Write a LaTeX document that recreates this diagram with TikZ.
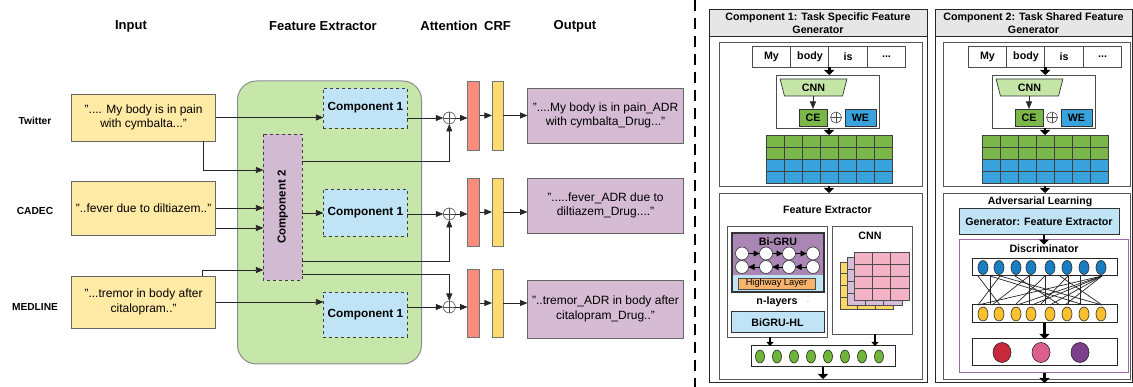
\documentclass[tikz,border=0pt]{standalone}
\usepackage{fontspec}
\setmainfont{Liberation Sans}
\usetikzlibrary{arrows.meta,calc,shapes.geometric}
\definecolor{inYel}{HTML}{FFEAA6}
\definecolor{grn}{HTML}{C7E7AA}
\definecolor{c1blue}{HTML}{C0E4F6}
\definecolor{c2pur}{HTML}{D3BAD3}
\definecolor{redbar}{HTML}{F88D7E}
\definecolor{yelbar}{HTML}{FFDB6E}
\definecolor{outpur}{HTML}{D6BBD4}
\definecolor{hdrc}{HTML}{E6E6E6}
\definecolor{gridG}{HTML}{7AB648}
\definecolor{gridB}{HTML}{38A3DC}
\definecolor{cnnG}{HTML}{C5E6A6}
\definecolor{gruP}{HTML}{A986B4}
\definecolor{hwO}{HTML}{F8B46C}
\definecolor{pinkL}{HTML}{F3B2C6}
\definecolor{purL}{HTML}{D5BCD8}
\definecolor{yelL}{HTML}{FCD76A}
\definecolor{nodeB}{HTML}{1A7CC1}
\definecolor{nodeY}{HTML}{FBC02D}
\definecolor{discP}{HTML}{9B6BAA}
\definecolor{outR}{HTML}{C8283C}
\definecolor{outK}{HTML}{DB5E8C}
\definecolor{outV}{HTML}{7B3F8C}
\definecolor{nodeG}{HTML}{6FB53A}
\newcommand\gridlines[4][black!70]{%
 \pgfmathtruncatemacro\gcols{#3-1}%
 \pgfmathtruncatemacro\grows{#4-1}%
 \foreach \i in {1,...,\gcols}{\draw[#1,line width=0.6pt] ($(#2.north west)!\i/#3!(#2.north east)$) -- ($(#2.south west)!\i/#3!(#2.south east)$);}%
 \foreach \j in {1,...,\grows}{\draw[#1,line width=0.6pt] ($(#2.north west)!\j/#4!(#2.south west)$) -- ($(#2.north east)!\j/#4!(#2.south east)$);}%
}
\newcommand\topblock[2]{%
\begin{scope}[xshift=#2]
\node[word] (#1w1) at (771.5,56.5) {My};
\node[word] (#1w2) at (810,56.5) {body};
\node[word] (#1w3) at (848,56.5) {is};
\node[word] (#1w4) at (886.5,56.5) {...};
\node[cbox] (#1cb) at (827.5,101.5) {};
\node[trap] (#1cnn) at (813.5,87.5) {CNN};
\node[ce, fill=gridG, minimum width=28] (#1ce) at (813,117.5) {CE};
\node[oplus, minimum size=11pt] (#1pl) at (836,117.5) {};
\node[ce, fill=gridB, minimum width=31] (#1we) at (860.5,117.5) {WE};
\node[draw=black!75, fill=gridB, minimum width=126, minimum height=48] (#1g) at (829,159) {};
\fill[gridG] (#1g.north west) rectangle (#1g.east);
\gridlines[black!75]{#1g}{7}{4}
\draw[black!75, line width=0.8pt] (#1g.north west) rectangle (#1g.south east);
\draw[fat] (#1w2.south east) -- (#1w2.south east |- #1cb.north);
\draw[arr] (#1cnn.south -| #1ce.north) -- (#1ce.north);
\draw[fat] (#1g.north |- #1cb.south) -- (#1g.north);
\end{scope}}
\begin{document}
\begin{tikzpicture}[x=1pt,y=-1pt,
 every node/.style={inner sep=0pt, outer sep=0pt},
 ttl/.style={font=\fontsize{13}{15}\selectfont\bfseries},
 lbl/.style={font=\fontsize{10.2}{12}\selectfont\bfseries},
 txt/.style={font=\fontsize{12}{14.5}\selectfont, align=center},
 bld/.style={font=\fontsize{10.7}{13}\selectfont\bfseries, align=center},
 inbox/.style={draw=black!60, line width=0.8pt, fill=inYel, minimum width=144, txt},
 obox/.style={draw=black!60, line width=0.8pt, fill=outpur, minimum width=156, txt},
 c1s/.style={draw=black!75, dashed, line width=0.7pt, fill=c1blue, minimum width=84, font=\fontsize{11.8}{14}\selectfont\bfseries},
 c2s/.style={draw=black!75, dashed, line width=0.7pt, fill=c2pur, font=\fontsize{11.5}{14}\selectfont\bfseries},
 rbar/.style={draw=black!55, line width=0.7pt, fill=redbar, minimum width=12},
 ybar/.style={draw=black!55, line width=0.7pt, fill=yelbar, minimum width=11.5},
 oplus/.style={circle, draw=black!70, line width=0.6pt, minimum size=12pt,
   path picture={\draw[black!70, line width=0.6pt] (path picture bounding box.north) -- (path picture bounding box.south) (path picture bounding box.west) -- (path picture bounding box.east);}},
 arr/.style={draw=black!85, line width=0.8pt, -{Triangle[length=7.5pt,width=6pt]}},
 sarr/.style={draw=black, line width=0.8pt, -{Triangle[length=6pt,width=6pt]}},
 fat/.style={draw=black, line width=2.8pt, -{Triangle[length=5pt,width=10pt]}},
 fatS/.style={draw=black, line width=2.2pt, -{Triangle[length=4pt,width=7pt]}},
 sep/.style={draw=black, line width=2pt, dash pattern=on 11pt off 7pt},
 panel/.style={draw=black!85, line width=1pt},
 hdr/.style={draw=black!85, line width=1pt, fill=hdrc, bld},
 ib/.style={draw=black!65, line width=0.8pt},
 word/.style={draw=black!70, line width=0.7pt, fill=white, minimum width=38.5, minimum height=21, bld},
 cbox/.style={draw=black!70, line width=0.8pt, fill=white, minimum width=103, minimum height=53},
 trap/.style={trapezium, trapezium stretches=true, shape border rotate=180, trapezium left angle=77, trapezium right angle=77, minimum width=67, minimum height=17, draw=black!80, line width=0.7pt, fill=cnnG, bld},
 ce/.style={draw=black!80, line width=0.7pt, minimum height=17, bld},
 lay/.style={draw=black!70, line width=0.6pt},
 gc/.style={circle, draw=black!80, fill=white, line width=0.6pt, minimum size=13pt},
 el/.style={ellipse, draw=black!85, line width=0.6pt},
 rowbox/.style={draw=black!85, line width=1pt, fill=white, minimum width=145}
]
\useasboundingbox (0,0) rectangle (1133,387);
\fill[white] (0,0) rectangle (1133,387);

% ---------------- left part ----------------
\node[ttl] (tIn) at (131,26) {Input};
\node[ttl] (tFE) at (323,26) {Feature Extractor};
\node[ttl] (tAt) at (449,26) {Attention};
\node[ttl] (tCRF) at (497.5,26) {CRF};
\node[ttl] (tOut) at (575,26) {Output};

\node[lbl] (lTw) at (35,121) {Twitter};
\node[lbl] (lCa) at (35,211) {CADEC};
\node[lbl] (lMe) at (35,307) {MEDLINE};

\node[draw=black!45, line width=1pt, fill=grn, rounded corners=19pt, minimum width=184, minimum height=283] (fe) at (329.5,222.5) {};

\node[inbox, minimum height=47] (tw) at (143.6,117.5) {".... My body is in pain\\with cymbalta..."};
\node[inbox, minimum height=54] (cad) at (143.6,208) {"..fever due to diltiazem.."};
\node[inbox, minimum height=52] (med) at (143.6,302) {"...tremor in body after\\citalopram.."};

\node[c1s, minimum height=40] (c1a) at (365.4,108) {Component 1};
\node[c1s, minimum height=47] (c1b) at (365.4,212.5) {Component 1};
\node[c1s, minimum height=45] (c1c) at (365.4,314.5) {Component 1};
\node[c2s, rotate=90, minimum width=146, minimum height=39] (c2) at (282.9,207) {Component 2};

\node[oplus] (p1) at (449.3,118) {};
\node[oplus] (p2) at (449.3,214) {};
\node[oplus] (p3) at (449.3,307) {};

\node[rbar, minimum height=69] (r1) at (473.5,115.5) {};
\node[rbar, minimum height=68] (r2) at (473.5,212) {};
\node[rbar, minimum height=68] (r3) at (473.5,303) {};
\node[ybar, minimum height=69] (y1) at (497.7,115.5) {};
\node[ybar, minimum height=68] (y2) at (497.7,212) {};
\node[ybar, minimum height=68] (y3) at (497.7,303) {};

\node[obox, minimum height=55] (o1) at (605.5,115.5) {"....My body is in pain\_ADR\\with cymbalta\_Drug..."};
\node[obox, minimum height=55] (o2) at (605.5,205.5) {".....fever\_ADR due to\\diltiazem\_Drug...."};
\node[obox, minimum height=58] (o3) at (605.5,309) {"..tremor\_ADR in body after\\citalopram\_Drug.."};

\draw[arr] (tw.east) -- (tw.east -| c1a.west);
\draw[arr] ([xshift=-12pt]tw.south east) |- (c2.north |- 0,170);
\draw[arr] (cad.east |- 0,208) -- (c2.north |- 0,208);
\draw[arr] (cad.east |- 0,228) -- (c2.north |- 0,228);
\draw[arr] ([xshift=-13pt]med.north east) |- (c2.north |- 0,270);
\draw[arr] (med.east |- 0,302) -- (c1c.west |- 0,302);
\draw[arr] (c2.south |- 0,161) -| (p1.south);
\draw[arr] (c2.south |- 0,213) -- (c1b.west |- 0,213);
\draw[arr] (c2.south |- 0,261) -| (p2.south);
\draw[arr] (c2.south |- 0,274) -| (p3.north);
\draw[arr] (c1a.east |- p1.west) -- (p1.west);
\draw[arr] (c1b.east |- p2.west) -- (p2.west);
\draw[arr] (c1c.east |- p3.west) -- (p3.west);
\foreach \k in {1,2,3}{
  \draw[arr] (p\k.east) -- (p\k.east -| r\k.west);
  \draw[arr] (r\k.east) -- (y\k.west);
  \draw[arr] (y\k.east) -- (y\k.east -| o\k.west);
}

\coordinate (sepT) at (695,0);
\coordinate (sepB) at (695,387);
\draw[sep] (sepT) -- (sepB);

% ---------------- panel 1 ----------------
\node[panel, minimum width=218, minimum height=373] (P1) at (818,196.5) {};
\node[hdr, minimum width=218, minimum height=27] (H1) at (818,23.5) {Component 1: Task Specific Feature\\Generator};
\node[ib, minimum width=203, minimum height=144] (A1) at (820.5,114) {};
\node[ib, minimum width=203, minimum height=186] (A2) at (820.5,286) {};
\topblock{a}{0}
\draw[fat] (A1.south -| ag.north) -- (A2.north -| ag.north);

\node[bld] (fet) at (827.5,210) {Feature Extractor};
\node[ib, minimum width=100, minimum height=111] (L) at (777,281.5) {};
\node[ib, minimum width=80, minimum height=108] (R) at (872,280) {};
\node[draw=black!80, line width=1.2pt, fill=c1blue, minimum width=92, minimum height=59] (gru) at (778,262.5) {};
\fill[gruP] (gru.north west) rectangle ([yshift=-42pt]gru.north east);
\draw[black!80, line width=1.2pt] (gru.north west) rectangle (gru.south east);
\node[bld] (bg) at (778,242) {Bi-GRU};
\node[gc] (ga1) at (742,253.5) {};
\node[gc] (ga2) at (766,253.5) {};
\node[gc] (ga3) at (789,253.5) {};
\node[gc] (ga4) at (813,253.5) {};
\node[gc] (gb1) at (742,267) {};
\node[gc] (gb2) at (766,267) {};
\node[gc] (gb3) at (789,267) {};
\node[gc] (gb4) at (813,267) {};
\draw[sarr] (ga1) -- (ga2);
\draw[sarr] (ga2) -- (ga3);
\draw[sarr] (ga3) -- (ga4);
\draw[sarr] (gb2) -- (gb1);
\draw[sarr] (gb3) -- (gb2);
\draw[sarr] (gb4) -- (gb3);
\node[draw=black!70, line width=0.6pt, fill=hwO, minimum width=77, minimum height=11, font=\fontsize{9.3}{10}\selectfont] (hw) at (776.5,283.5) {Highway Layer};
\node[bld] (nl) at (777,302) {n-layers};
\node[text=black!40, font=\fontsize{7}{8}\selectfont] (nd) at (808,302) {-};
\node[draw=black!80, line width=1pt, fill=c1blue, minimum width=93, minimum height=21, bld] (bhl) at (777.5,322.5) {BiGRU-HL};

\node[bld] (cnn2) at (870,236) {CNN};
\node[lay, fill=yelL, minimum width=53, minimum height=47] (ly) at (866.5,285.5) {};
\gridlines{ly}{3}{4}
\node[lay, fill=purL, minimum width=55, minimum height=48] (lp) at (874.5,281) {};
\gridlines{lp}{3}{4}
\node[lay, fill=pinkL, minimum width=55, minimum height=48] (lk) at (881.5,276) {};
\gridlines{lk}{3}{4}

\node[rowbox, minimum width=144, minimum height=21] (vec) at (823,356.5) {};
\foreach \i in {1,...,8}{\node[el, fill=nodeG, minimum width=9, minimum height=13] (ve\i) at ({743+17*\i},356.5) {};}
\draw[fatS] (L.south -| 770,0) -- (vec.north -| 770,0);
\draw[fatS] (R.south -| 875,0) -- (vec.north -| 875,0);
\draw[fat] (vec.south) -- (vec.south |- A2.south);

% ---------------- panel 2 ----------------
\node[panel, minimum width=197, minimum height=373] (P2) at (1033.5,196.5) {};
\node[hdr, minimum width=197, minimum height=27] (H2) at (1033.5,23.5) {Component 2: Task Shared Feature\\Generator};
\node[ib, minimum width=187, minimum height=144] (B1) at (1036.5,114) {};
\node[ib, minimum width=187, minimum height=186] (B2) at (1036.5,286) {};
\topblock{b}{216}
\draw[fat] (B1.south -| bg.north) -- (B2.north -| bg.north);

\node[bld, font=\fontsize{10.5}{12}\selectfont\bfseries] (adv) at (1040,202) {Adversarial Learning};
\node[draw=black!80, line width=1pt, fill=c1blue, minimum width=160, minimum height=26, bld] (gen) at (1039,222) {Generator: Feature Extractor};
\node[draw=discP, line width=1pt, minimum width=169, minimum height=133] (disc) at (1043.5,306.5) {};
\node[bld] (dt) at (1044,248.5) {Discriminator};
\draw[fat] (gen.south -| dt.north) -- (dt.north);

\node[rowbox, minimum height=17] (db) at (1044.5,267.5) {};
\node[rowbox, minimum height=18] (dy) at (1044.5,314) {};
\foreach \a/\b in {978/1000,1000/978,990/990,990/1084,1000/1102,1029/1029,1029/992,1045/1045,1045/1015,1068/1068,1068/1040,1080/1080,1102/978,1102/1017,1102/1032,1102/1050,1102/1065,1060/1102,1015/1060}
  {\draw[black!85, line width=0.7pt] (db.south -| \a,0) -- (dy.north -| \b,0);}
\foreach \x [count=\i] in {983,999,1016,1031,1050,1067,1084,1101}{
  \node[el, fill=nodeB, minimum width=10, minimum height=14] (bn\i) at (\x,267.5) {};
  \node[el, fill=nodeY, minimum width=10, minimum height=14] (yn\i) at (\x,314) {};
}
\node[rowbox, minimum height=27] (dout) at (1044.5,352.5) {};
\node[el, fill=outR, minimum width=18, minimum height=20] (oc1) at (1002,352.5) {};
\node[el, fill=outK, minimum width=18, minimum height=20] (oc2) at (1041,352.5) {};
\node[el, fill=outV, minimum width=18, minimum height=20] (oc3) at (1080,352.5) {};
\draw[fat] (dy.south) -- (dout.north);
\draw[fat] (disc.south -| dout.south) -- (P2.south -| dout.south);
\end{tikzpicture}
\end{document}
